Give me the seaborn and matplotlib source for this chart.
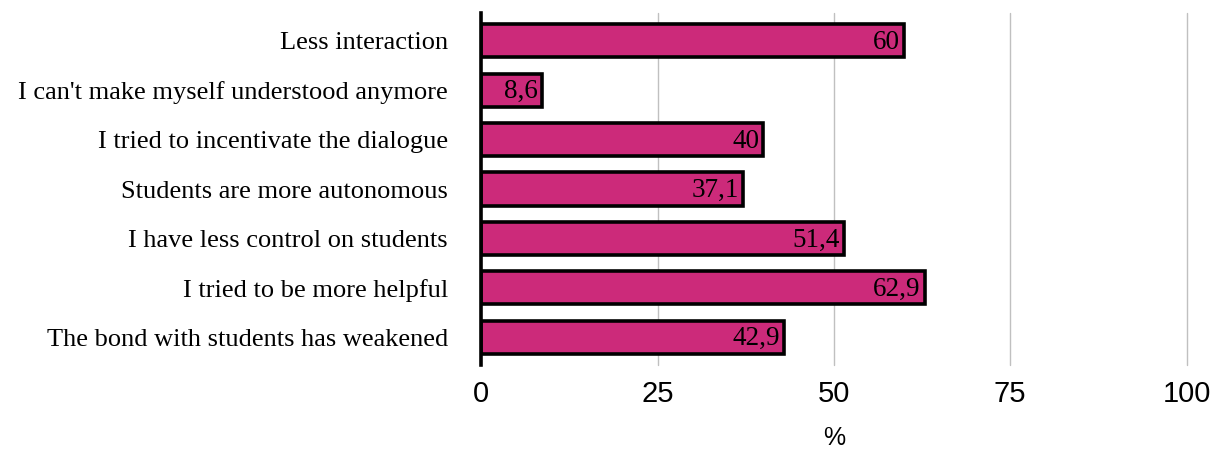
import matplotlib
matplotlib.use("Agg")
import matplotlib.pyplot as plt
import seaborn as sns
import pandas as pd

categories = [
    "Less interaction",
    "I can't make myself understood anymore",
    "I tried to incentivate the dialogue",
    "Students are more autonomous",
    "I have less control on students",
    "I tried to be more helpful",
    "The bond with students has weakened",
]
values = [60, 8.6, 40, 37.1, 51.4, 62.9, 42.9]
value_labels = ["60", "8,6", "40", "37,1", "51,4", "62,9", "42,9"]
x_ticks = [0, 25, 50, 75, 100]

sns.set_style("white")
df = pd.DataFrame({"category": categories, "value": values})

fig = plt.figure(figsize=(12.12, 4.5), dpi=100)
ax = fig.add_axes([0.397, 0.189, 0.582, 0.782])

sns.barplot(data=df, x="value", y="category", orient="h", color="#CC2A7A",
            saturation=1, width=0.67, edgecolor="black", linewidth=2.6, ax=ax)

ax.set_xlim(0, 100)
ax.set_ylim(6.56, -0.56)
ax.set_xticks(x_ticks)
ax.set_xticklabels([str(t) for t in x_ticks], fontfamily="Liberation Sans", fontsize=21)
ax.tick_params(axis="x", length=0, pad=11)
ax.tick_params(axis="y", length=0, pad=24)
for lbl in ax.get_yticklabels():
    lbl.set_fontfamily("Liberation Serif")
    lbl.set_fontsize(19)
    lbl.set_color("black")
ax.xaxis.grid(True, color="#c0c0c0", linewidth=1.0)
for gl in ax.get_xgridlines():
    gl.set_clip_on(False)
ax.set_axisbelow(True)
for s in ["top", "right", "bottom"]:
    ax.spines[s].set_visible(False)
ax.spines["left"].set_color("black")
ax.spines["left"].set_linewidth(2.6)
ax.set_ylabel("")
ax.set_xlabel("%", fontfamily="Liberation Sans", fontsize=18, color="black")
ax.xaxis.set_label_coords(0.5, -0.208)
ax.xaxis.label.set_va("center")
for lbl in ax.get_xticklabels():
    lbl.set_color("black")

for i, (v, t) in enumerate(zip(values, value_labels)):
    ax.text(v - 0.6, i + 0.03, t, ha="right", va="center",
            fontfamily="Liberation Serif", fontsize=19.5, color="black")

fig.savefig("out.png", dpi=100)
